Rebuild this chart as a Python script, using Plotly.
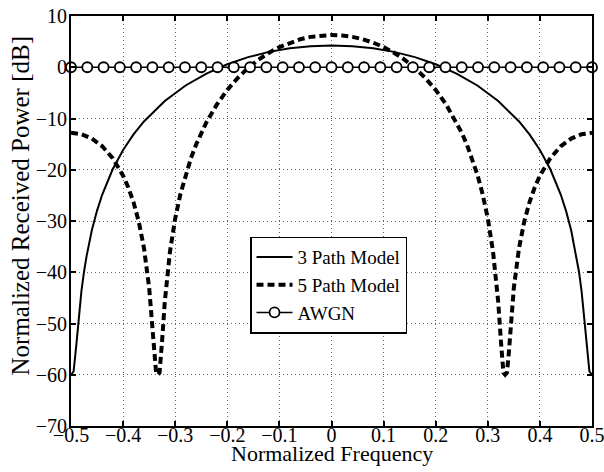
import plotly.graph_objects as go

# ---- data ----
freq_3path = [-0.5, -0.495, -0.49, -0.485, -0.48, -0.475, -0.47, -0.46, -0.45, -0.44,
              -0.42, -0.40, -0.38, -0.36, -0.32, -0.28, -0.24, -0.20, -0.16, -0.12,
              -0.08, -0.04, 0.0, 0.04, 0.08, 0.12, 0.16, 0.20, 0.24, 0.28, 0.32,
              0.36, 0.38, 0.40, 0.42, 0.44, 0.45, 0.46, 0.47, 0.475, 0.48, 0.485,
              0.49, 0.495, 0.5]
power_3path = [-60.0, -59.35, -54.4, -48.5, -43.7, -39.9, -36.8, -31.8, -27.97, -24.83,
               -19.91, -16.14, -13.10, -10.57, -6.58, -3.56, -1.23, 0.58, 1.97, 3.00,
               3.71, 4.12, 4.26, 4.12, 3.71, 3.00, 1.97, 0.58, -1.23, -3.56, -6.58,
               -10.57, -13.10, -16.14, -19.91, -24.83, -27.97, -31.8, -36.8, -39.9, -43.7, -48.5,
               -54.4, -59.35, -60.0]

freq_5path = [-0.50, -0.48, -0.46, -0.44, -0.42, -0.40, -0.39, -0.38, -0.37, -0.36,
              -0.35, -0.345, -0.34, -0.3367, -0.3333, -0.33, -0.325, -0.32, -0.31, -0.30,
              -0.29, -0.28, -0.27, -0.26, -0.25, -0.24, -0.22, -0.20, -0.18, -0.16,
              -0.14, -0.12, -0.10, -0.08, -0.06, -0.04, -0.02,
              0.0,
              0.02, 0.04, 0.06, 0.08, 0.10, 0.12, 0.14, 0.16, 0.18, 0.20,
              0.22, 0.24, 0.25, 0.26, 0.27, 0.28, 0.29, 0.30, 0.31, 0.32,
              0.325, 0.33, 0.3333, 0.3367, 0.34, 0.345, 0.35, 0.36, 0.37, 0.38,
              0.39, 0.40, 0.42, 0.44, 0.46, 0.48, 0.50]
power_5path = [-12.79, -13.07, -13.92, -15.42, -17.73, -21.15, -23.46, -26.36, -30.10, -35.23,
               -43.0, -48.7, -56.2, -59.6, -60.0, -59.6, -53.2, -45.77, -35.94, -29.51,
               -24.74, -20.95, -17.80, -15.12, -12.79, -10.73, -7.26, -4.43, -2.09, -0.14,
               1.49, 2.83, 3.93, 4.80, 5.46, 5.93, 6.20,
               6.30,
               6.20, 5.93, 5.46, 4.80, 3.93, 2.83, 1.49, -0.14, -2.09, -4.43,
               -7.26, -10.73, -12.79, -15.12, -17.80, -20.95, -24.74, -29.51, -35.94, -45.77,
               -53.2, -59.6, -60.0, -59.6, -56.2, -48.7, -43.0, -35.23, -30.10, -26.36,
               -23.46, -21.15, -17.73, -15.42, -13.92, -13.07, -12.79]

freq_awgn = [-0.5, -0.46875, -0.4375, -0.40625, -0.375, -0.34375, -0.3125, -0.28125,
             -0.25, -0.21875, -0.1875, -0.15625, -0.125, -0.09375, -0.0625, -0.03125,
             0.0, 0.03125, 0.0625, 0.09375, 0.125, 0.15625, 0.1875, 0.21875, 0.25,
             0.28125, 0.3125, 0.34375, 0.375, 0.40625, 0.4375, 0.46875, 0.5]
power_awgn = [0, 0, 0, 0, 0, 0, 0, 0, 0, 0, 0, 0, 0, 0, 0, 0, 0,
              0, 0, 0, 0, 0, 0, 0, 0, 0, 0, 0, 0, 0, 0, 0, 0]

x_tickvals = [-0.5, -0.4, -0.3, -0.2, -0.1, 0, 0.1, 0.2, 0.3, 0.4, 0.5]
x_ticktext = ["\u22120.5", "\u22120.4", "\u22120.3", "\u22120.2", "\u22120.1", "0",
              "0.1", "0.2", "0.3", "0.4", "0.5"]
y_tickvals = [-70, -60, -50, -40, -30, -20, -10, 0, 10]
y_ticktext = ["\u221270", "\u221260", "\u221250", "\u221240", "\u221230", "\u221220",
              "\u221210", "0", "10"]

series_names = ["3 Path Model", "5 Path Model", "AWGN"]
x_title = "Normalized Frequency"
y_title = "Normalized Received Power [dB]"

# ---- figure ----
FONT = "Liberation Serif, Times New Roman, serif"

fig = go.Figure()
fig.add_trace(go.Scatter(x=freq_3path, y=power_3path, mode="lines", name=series_names[0],
                         line=dict(color="black", width=2)))
fig.add_trace(go.Scatter(x=freq_5path, y=power_5path, mode="lines", name=series_names[1],
                         line=dict(color="black", width=4, dash="7px,4px")))
fig.add_trace(go.Scatter(x=freq_awgn, y=power_awgn, mode="lines+markers", name=series_names[2],
                         line=dict(color="black", width=1.6),
                         marker=dict(symbol="circle", size=10, color="white",
                                     line=dict(color="black", width=1.8)),
                         cliponaxis=False))

axis_common = dict(
    showline=True, linecolor="black", linewidth=2, mirror="ticks",
    ticks="inside", ticklen=5, tickwidth=1.5, tickcolor="black",
    showgrid=True, gridcolor="rgba(0,0,0,0.6)", gridwidth=1, griddash="1px,3px",
    zeroline=False, automargin=False, ticklabeloverflow="allow",
    tickfont=dict(family=FONT, size=20, color="black"),
)

fig.update_xaxes(range=[-0.5, 0.5], tickvals=x_tickvals, ticktext=x_ticktext,
                 ticklabelstandoff=-10, **axis_common)
fig.update_yaxes(range=[-70, 10], tickvals=y_tickvals, ticktext=y_ticktext,
                 ticklabelstandoff=-2, **axis_common)

fig.add_annotation(text=x_title, xref="paper", yref="paper", x=0.5, y=-0.068,
                   xanchor="center", yanchor="middle", showarrow=False,
                   font=dict(family=FONT, size=22, color="black"))
fig.add_annotation(text=y_title, xref="paper", yref="paper", x=-0.096, y=0.5378,
                   xanchor="center", yanchor="middle", showarrow=False, textangle=-90,
                   font=dict(family=FONT, size=25, color="black"))

fig.update_layout(
    width=604, height=472,
    margin=dict(l=71, r=12, t=16, b=46),
    paper_bgcolor="white", plot_bgcolor="white",
    font=dict(family=FONT, size=20, color="black"),
    legend=dict(x=0.3436, y=0.4617, xanchor="left", yanchor="top",
                bgcolor="white", bordercolor="black", borderwidth=1.5,
                font=dict(family=FONT, size=19, color="black"),
                tracegroupgap=0, itemwidth=36),
    showlegend=True,
)

# remove the page's default body margin so the figure fills the window exactly
fig.write_html("out.html",
               config={"displayModeBar": False},
               post_script="document.body.style.margin='0';document.body.style.overflow='hidden';")
